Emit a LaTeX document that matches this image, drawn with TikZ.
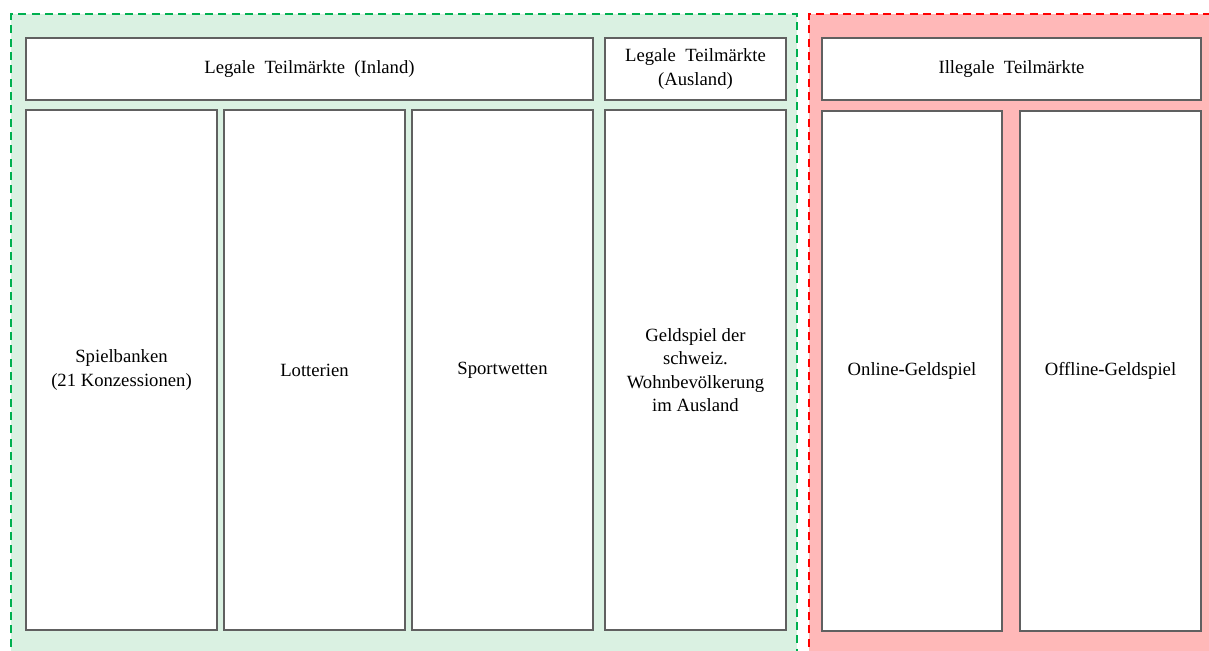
\documentclass[tikz,border=0pt]{standalone}
\usepackage{fontspec}
\setmainfont{Liberation Serif}
\usepackage{xcolor}
\usepackage{tikz}
\usetikzlibrary{positioning, shadows, backgrounds}
\definecolor{legalgreen}{RGB}{218,241,226}
\definecolor{legaledge}{RGB}{0,176,80}
\definecolor{illegalred}{RGB}{255,184,184}
\definecolor{illegaledge}{RGB}{255,0,0}
\definecolor{boxgray}{RGB}{96,96,96}
\tikzstyle{mk}=[%
      rectangle, draw=boxgray, line width=0.9pt, fill=white,
      drop shadow={shadow xshift=0.5pt, shadow yshift=-0.5pt, opacity=0.6},
      align=center, inner sep=4pt, outer sep=0pt, font=\fontsize{14}{17.5}\selectfont
]
\tikzstyle{hd}=[mk, minimum height=46.5pt]
\tikzstyle{col}=[mk, minimum height=390pt, minimum width=135.75pt]
\tikzstyle{zone}=[line width=1.9pt, dash pattern=on 6pt off 4pt]

\begin{document}
\begin{tikzpicture}[x=0.75pt, y=-0.75pt]
    \useasboundingbox (0,0) rectangle (1209,650);
    \fill[legalgreen] (11,14) rectangle (797,660);
    \draw[zone, legaledge] (11,660) -- (11,14) -- (797,14) -- (797,660);
    \fill[illegalred] (809,14) rectangle (1220,660);
    \draw[zone, illegaledge] (809,660) -- (809,14) -- (1220,14);

    % legal, inland
    \node[hd, minimum width=425.25pt, anchor=north west] (inland) at (26,38) {Legale\hspace{0.5em}Teilmärkte\hspace{0.5em}(Inland)};
    \node[col, minimum width=143.25pt, anchor=north west] (spielbanken) at (26,110) {Spielbanken\\(21 Konzessionen)};
    \node[col] (lotterien) [right = 5.25pt of spielbanken] {Lotterien};
    \node[col] (sportwetten) [right = 5.25pt of lotterien] {Sportwetten};

    % legal, abroad
    \node[hd, minimum width=135.75pt, text depth=3pt] (ausland) [right = 9pt of inland] {Legale\hspace{0.5em}Teilmärkte\\(Ausland)};
    \node[col] (geldspiel) [right = 9pt of sportwetten] {Geldspiel der\\schweiz.\\Wohnbevölkerung\\im Ausland};

    % illegal
    \node[hd, minimum width=284.25pt, anchor=north west] (illegal) at (822,38) {Illegale\hspace{0.5em}Teilmärkte};
    \node[col, minimum width=135pt, anchor=north west] (online) at (822,111) {Online-Geldspiel};
    \node[col] (offline) [right = 13.5pt of online] {Offline-Geldspiel};
\end{tikzpicture}
\end{document}
